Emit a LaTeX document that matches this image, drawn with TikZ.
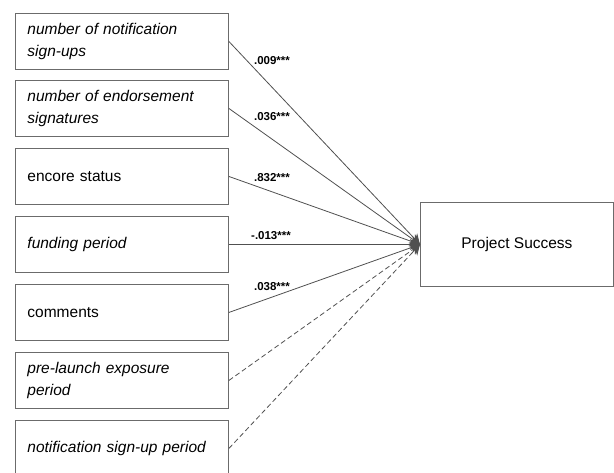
\documentclass[tikz,border=0pt]{standalone}
\usepackage{fontspec}
\setmainfont{Liberation Sans}
\usetikzlibrary{arrows.meta}

\definecolor{boxgray}{HTML}{6B6B6B}
\definecolor{linegray}{HTML}{505050}

\begin{document}
\begin{tikzpicture}[x=1pt,y=-1pt,
    factor/.style={draw=boxgray,line width=0.9pt,minimum width=213pt,minimum height=56pt,
        text width=189pt,inner xsep=12pt,align=left,anchor=north west,
        font=\fontsize{15.5}{22}\selectfont},
    outcome/.style={draw=boxgray,line width=0.9pt,minimum width=193pt,minimum height=84pt,
        anchor=north west,font=\fontsize{15.5}{18}\selectfont},
    effect/.style={draw=linegray,line width=0.8pt,-{Stealth[length=10pt,width=11pt]}},
    coef/.style={font=\bfseries\fontsize{11.5}{13}\selectfont}]
                    \useasboundingbox (0,0) rectangle (614,472);
                    \clip (0,0) rectangle (614,472);

                    \node[factor] (signups) at (15,13) {\itshape number of notification\\sign-ups};
                    \node[factor] (endorse) at (15,80) {\itshape number of endorsement\\signatures};
                    \node[factor] (encore) at (15,148) {encore status};
                    \node[factor] (funding) at (15,216) {\itshape funding period};
                    \node[factor] (comments) at (15,284) {comments};
                    \node[factor] (prelaunch) at (15,352) {\itshape pre-launch exposure\\period};
                    \node[factor] (supperiod) at (15,420) {\itshape notification sign-up period};

                    \node[outcome] (success) at (420,202) {Project Success};

                    \draw[effect] (signups.east) -- (success.west);
                    \draw[effect] (endorse.east) -- (success.west);
                    \draw[effect] (encore.east) -- (success.west);
                    \draw[effect] (funding.east) -- (success.west);
                    \draw[effect] (comments.east) -- (success.west);
                    \draw[effect,dash pattern=on 5pt off 3pt] (prelaunch.east) -- (success.west);
                    \draw[effect,dash pattern=on 5pt off 3pt] (supperiod.east) -- (success.west);

                    \node[coef] (c1) at (272,61) {.009***};
                    \node[coef] (c2) at (272,117) {.036***};
                    \node[coef] (c3) at (272,178) {.832***};
                    \node[coef] (c4) at (271,236) {-.013***};
                    \node[coef] (c5) at (272,287) {.038***};
                \end{tikzpicture}
\end{document}
